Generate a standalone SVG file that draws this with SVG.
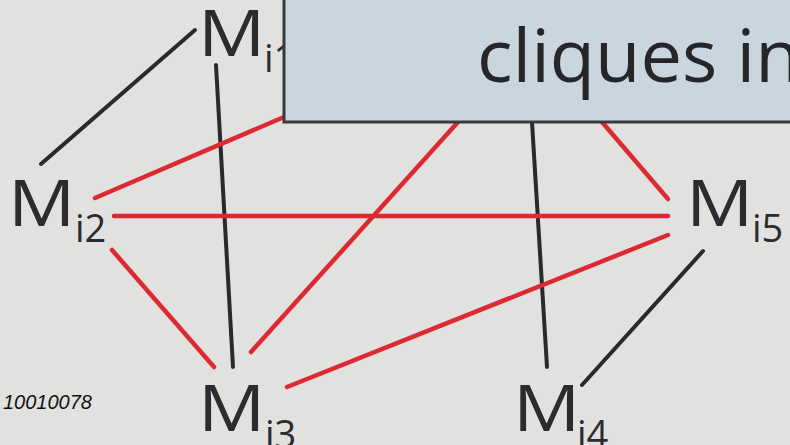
<svg xmlns="http://www.w3.org/2000/svg" width="790" height="445" viewBox="0 0 790 445">
<style>
.bg{fill:#e1e1df}
.blk{stroke:#2a2a2e;stroke-width:4;stroke-linecap:round;fill:none}
.red{stroke:#dc2a30;stroke-width:4.5;stroke-linecap:round;fill:none}
.lbl{font-family:"Open Sans","DejaVu Sans",sans-serif;font-size:64px;fill:#2c2c30}
.sub{font-family:"Open Sans","DejaVu Sans",sans-serif;font-size:38px;fill:#2c2c30}
.box{fill:#c9d5df;stroke:#3a3a3e;stroke-width:3}
.title{font-family:"Open Sans","DejaVu Sans",sans-serif;font-size:74px;fill:#26262a}
.note{font-family:"Liberation Sans",Arial,sans-serif;font-size:20px;font-style:italic;fill:#111}
</style>
<rect class="bg" x="0" y="0" width="790" height="445"/>
<g id="connectors">
<line class="blk" x1="195" y1="30" x2="41" y2="164"/>
<line class="blk" x1="216" y1="65" x2="233" y2="367"/>
<line class="blk" x1="532" y1="122" x2="547" y2="367"/>
<line class="blk" x1="703" y1="251" x2="582" y2="385"/>
<line class="red" x1="95" y1="198" x2="284" y2="117"/>
<line class="red" x1="114" y1="216" x2="668" y2="216"/>
<line class="red" x1="251" y1="352" x2="458" y2="122"/>
<line class="red" x1="602" y1="122" x2="668" y2="199"/>
<line class="red" x1="112" y1="250" x2="214" y2="367"/>
<line class="red" x1="287" y1="387" x2="668" y2="235"/>
</g>
<g id="node-mi1"><text class="lbl" transform="translate(198 56) scale(1.17 1)">M</text><text class="sub" x="264" y="72">i1</text></g>
<g id="node-mi2"><text class="lbl" transform="translate(8 226) scale(1.17 1)">M</text><text class="sub" x="75" y="242">i2</text></g>
<g id="node-mi5"><text class="lbl" transform="translate(686 226) scale(1.17 1)">M</text><text class="sub" x="752" y="242">i5</text></g>
<g id="node-mi3"><text class="lbl" transform="translate(198 431) scale(1.17 1)">M</text><text class="sub" x="265" y="448">i3</text></g>
<g id="node-mi4"><text class="lbl" transform="translate(513 431) scale(1.17 1)">M</text><text class="sub" x="577" y="448">i4</text></g>
<g id="node-box"><rect class="box" x="284" y="-5" width="520" height="127"/><text class="title" x="477" y="82">cliques in</text></g>
<g id="note"><text class="note" x="3" y="409">10010078</text></g>
</svg>
